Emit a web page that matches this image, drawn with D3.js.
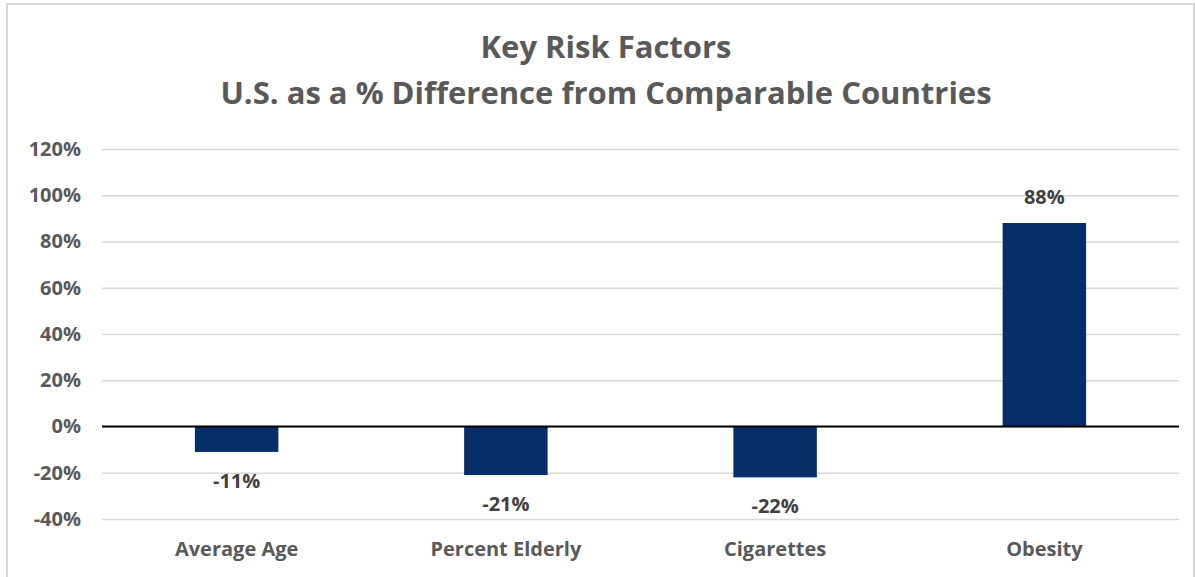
<!DOCTYPE html>
<html>
<head>
<meta charset="utf-8">
<script src="https://cdn.jsdelivr.net/npm/d3@7"></script>
<style>
  body { margin: 0; background: #fff; }
  text { font-family: "Open Sans", Lato, sans-serif; }
</style>
</head>
<body>
<div id="chart"></div>
<script>
// chart data
const categories = ['Average Age', 'Percent Elderly', 'Cigarettes', 'Obesity'];
const values = [-11, -21, -22, 88];
const yTicks = [-40, -20, 0, 20, 40, 60, 80, 100, 120];
const titleLines = ['Key Risk Factors', 'U.S. as a % Difference from Comparable Countries'];

const W = 1195, H = 577;
const FONT = '"Open Sans", Lato, sans-serif';
let margin = { top: 149, right: 16, bottom: 58, left: 102 },
    width = W - margin.left - margin.right,
    height = H - margin.top - margin.bottom;

const svg = d3.select('#chart')
    .append('svg')
    .attr('width', W)
    .attr('height', H);

// outer frame
svg.append('rect')
    .attr('x', 7).attr('y', 4)
    .attr('width', W - 8).attr('height', H)
    .attr('fill', 'none')
    .attr('stroke', '#d9d9d9')
    .attr('stroke-width', 2);

// title
svg.selectAll('text.title')
    .data(titleLines)
    .enter().append('text')
    .attr('class', 'title')
    .attr('x', 606)
    .attr('y', (d, i) => 58 + i * 46)
    .attr('text-anchor', 'middle')
    .attr('fill', '#595959')
    .attr('font-size', 31)
    .attr('font-weight', 'bold')
    .text(d => d);

const g = svg.append('g')
    .attr('transform', 'translate(' + margin.left + ',' + margin.top + ')');

let x = d3.scaleBand()
    .domain(categories)
    .range([0, width])
    .paddingInner(0.69)
    .paddingOuter(0.345);

let y = d3.scaleLinear()
    .domain([-40, 120])
    .range([height, 0]);

// gridlines
g.append('g')
    .attr('class', 'grid')
    .call(d3.axisLeft(y).tickValues(yTicks).tickSize(-width).tickFormat(''))
    .call(s => s.select('.domain').remove())
    .call(s => s.selectAll('line').attr('stroke', '#d9d9d9').attr('stroke-width', 1.5));

// y tick labels
g.append('g')
    .attr('class', 'axis y')
    .call(d3.axisLeft(y).tickValues(yTicks).tickSize(0).tickPadding(21).tickFormat(d => d + '%'))
    .call(s => s.select('.domain').remove())
    .call(s => s.selectAll('text')
        .attr('fill', '#595959')
        .attr('font-size', 20)
        .attr('font-weight', 'bold')
        .style('font-family', FONT));

// bars
g.selectAll('rect.bar')
    .data(values)
    .enter().append('rect')
    .attr('class', 'bar')
    .attr('x', (d, i) => x(categories[i]))
    .attr('width', x.bandwidth())
    .attr('y', d => y(Math.max(0, d)))
    .attr('height', d => Math.abs(y(d) - y(0)))
    .attr('fill', '#082e69');

// zero line
g.append('line')
    .attr('x1', 0).attr('x2', width)
    .attr('y1', y(0)).attr('y2', y(0))
    .attr('stroke', '#000')
    .attr('stroke-width', 2);

// data labels
g.selectAll('text.label')
    .data(values)
    .enter().append('text')
    .attr('class', 'label')
    .attr('x', (d, i) => x(categories[i]) + x.bandwidth() / 2)
    .attr('y', d => d < 0 ? y(d) + 36 : y(d) - 19)
    .attr('text-anchor', 'middle')
    .attr('fill', '#404040')
    .attr('font-size', 20)
    .attr('font-weight', 'bold')
    .text(d => d + '%');

// category labels
g.append('g')
    .attr('class', 'axis x')
    .attr('transform', 'translate(0,' + height + ')')
    .call(d3.axisBottom(x).tickSize(0).tickPadding(23))
    .call(s => s.select('.domain').remove())
    .call(s => s.selectAll('text')
        .attr('fill', '#595959')
        .attr('font-size', 20)
        .attr('font-weight', 'bold')
        .style('font-family', FONT));
</script>
</body>
</html>
